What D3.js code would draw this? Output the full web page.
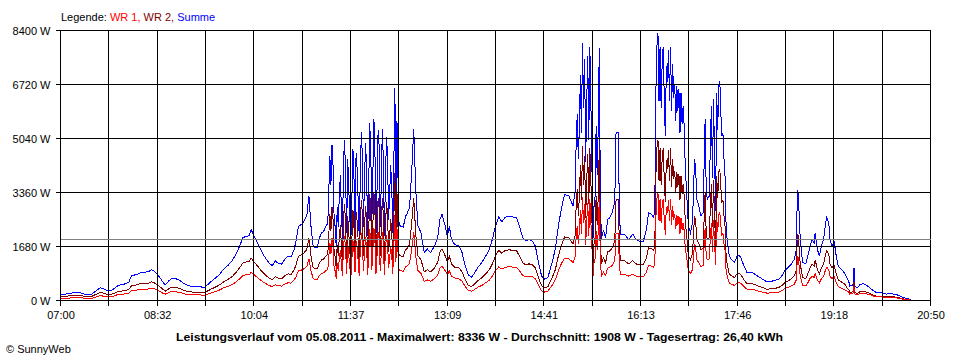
<!DOCTYPE html>
<html><head><meta charset="utf-8">
<script src="https://cdn.jsdelivr.net/npm/d3@7"></script>
<style>
html,body{margin:0;padding:0;background:#fff;}
svg{display:block;}
text{font-family:"Liberation Sans",Arial,sans-serif;}
</style>
</head><body>
<svg id="c" width="960" height="360"></svg>
<script>
// ---- data (minutes since midnight, watts) ----
const times = [
 420,425,430,435,440,445,450,455,458,462,466,470,475,480,485,488,492,496,500,504,507,510,514,518,520,523,526,530,534,538,
 542,546,552,557,560,564,568,572,576,580,584,588,591,594,597,600,602,604,607,610,613,616,619,622,625,628,631,634,637,640,
 643,645,647,649,651,653,655,657,659,661,663,665,667,669,671,673,675,
 677,678,679,680,681,682,683,684,685,686,687,688,689,690,691,692,693,694,695,696,697,698,699,700,701,702,703,704,705,706,
 707,708,709,710,711,712,713,714,715,716,717,718,719,720,721,722,723,724,725,726,727,728,729,730,731,732,733,734,735,736,
 737,738,739,740,741,742,743,
 745,747,749,751,753,755,757,759,761,
 764,767,770,773,777,780,782,784,787,789,791,793,796,800,803,806,809,812,815,818,822,826,829,832,835,838,841,844,848,851,
 855,858,861,864,867,870,873,876,879,882,885,889,892,895,898,901,905,909,911,912,913,914,915,916,917,918,919,920,921,922,
 923,924,925,926,927,928,929,930,931,932,933,934,935,936,938,940,942,944,946,948,949,950,952,953,954,958,962,966,969,972,
 976,979,981,984,986,987,988,989,990,991,992,993,994,995,996,997,998,999,1000,1001,1002,1003,1004,1005,1006,1007,1008,1009,1010,1011,
 1012,1013,1014,1015,1016,1017,1018,1019,1021,1023,1024,1025,1026,1027,1029,1031,1033,1035,1036,1037,1039,1040,1041,1042,1043,1044,1045,1046,1047,1048,
 1049,1050,1051,1052,1053,1054,1055,1056,1058,1060,1063,1066,1069,1072,1075,1080,1085,1090,1094,1100,1105,1108,1111,1114,1117,1120,1122,1123,1124,1125,
 1126,1128,1131,1133,1135,1137,1139,1140,1142,1144,1146,1148,1150,1151,1153,1154,1156,1158,1160,1162,1165,1168,1170,1172,1173,1176,1177,1178,1180,1183,
 1186,1190,1193,1198,1203,1208,1213,1218,1224,1228,1231,1232
];
const summe = [
 190,200,230,250,230,180,200,330,400,350,290,340,470,500,560,780,800,860,880,900,960,900,750,560,490,600,690,680,620,520,
 460,440,440,400,480,600,700,820,990,1100,1250,1480,1700,1950,2000,2010,2200,2050,1850,1650,1450,1300,1170,1080,1230,1150,1130,1280,1380,1350,
 1600,1900,2300,2350,2400,2520,2650,3250,2300,1700,1650,1650,1950,2100,2150,2300,2400,
 4500,3600,4850,4200,2600,2300,1700,2900,2300,3300,3900,2800,1900,4300,5000,3900,2100,4400,3500,2600,1800,3200,4700,3800,2200,4600,4100,3100,1900,3900,
 5230,4500,2300,3700,4900,4200,2000,3400,5530,4700,2400,3900,5640,4600,2100,3500,5300,4800,2300,3600,5320,4400,2000,3800,5100,4500,2500,3300,4200,3600,
 2100,4200,6620,3000,5590,3800,2350,
 2300,2280,2600,2730,2890,3980,5320,3400,2320,
 2100,1490,1600,1490,1700,2000,2520,2680,2320,2000,2300,1900,1740,1700,1500,1100,800,720,850,1020,1180,1400,1580,1900,2320,2600,2450,2580,2630,2600,
 2580,2300,1950,1850,1900,1850,1700,1180,760,660,720,1180,1590,2320,2890,3300,3250,2940,3400,5000,5790,4400,5380,7000,5200,8020,6000,7500,4300,6150,
 7600,5000,7900,6150,4180,1900,2940,3250,5430,3900,5400,7870,3350,1900,2200,1950,2520,2570,2700,2940,3460,5220,5220,3350,2060,2060,1900,2060,1900,1850,
 1850,2200,2730,2680,2580,2940,6460,7900,8330,6200,7900,6000,7400,7900,6300,5120,7300,6800,7800,6200,7900,5900,7350,6300,6720,5600,6670,5900,6570,5200,
 6460,5500,6050,5430,4180,3560,2940,2320,2110,2420,3600,4390,4080,3150,2940,2630,2730,5640,3500,3150,3250,5000,6040,3800,6260,4500,2800,6460,5300,6670,
 6830,5800,5120,5200,4400,3870,2320,1900,1380,1280,1180,1430,1350,1070,870,870,760,660,580,610,660,760,920,1020,1120,1280,1590,3400,3350,2320,
 1800,1180,1150,1380,1690,1900,1800,2110,1600,1380,1700,1900,2420,2580,2400,1900,1690,1850,1400,1070,960,860,710,600,450,480,1020,450,400,500,
 520,450,370,250,250,200,210,180,90,60,20,0
];
const wr1 = [
 70,70,80,90,80,70,70,120,150,130,110,130,190,200,220,310,320,340,350,360,380,360,300,220,200,240,280,270,250,210,
 180,180,180,160,190,240,280,330,400,440,500,590,680,780,800,800,880,820,740,660,580,520,470,430,490,460,450,510,550,540,
 640,760,920,940,960,1010,1060,1300,920,680,660,660,780,840,860,920,960,
 1800,1440,1940,1680,1040,920,680,1160,920,1320,1560,1120,760,1720,2000,1560,840,1760,1400,1040,720,1280,1880,1520,880,1840,1640,1240,760,1560,
 2090,1800,920,1480,1960,1680,800,1360,2210,1880,960,1560,2260,1840,840,1400,2120,1920,920,1440,2130,1760,800,1520,2040,1800,1000,1320,1680,1440,
 840,1680,2650,1200,2240,1520,940,
 920,910,1040,1090,1160,1590,2130,1360,930,
 840,600,640,600,680,800,1010,1070,930,800,920,760,700,680,600,440,320,290,340,410,470,560,630,760,930,1040,980,1030,1050,1040,
 1030,920,780,740,760,740,680,470,300,260,290,470,640,930,1160,1320,1300,1180,1360,2000,2320,1760,2150,2800,2080,3210,2400,3000,1720,2460,
 3040,2000,3160,2460,1670,760,1180,1300,2170,1560,2160,3150,1340,760,880,780,1010,1030,1080,1180,1380,2090,2090,1340,820,820,760,820,760,740,
 740,880,1090,1070,1030,1180,2580,3160,3330,2480,3160,2400,2960,3160,2520,2050,2920,2720,3120,2480,3160,2360,2940,2520,2690,2240,2670,2360,2630,2080,
 2580,2200,2420,2170,1670,1420,1180,930,840,970,1440,1760,1630,1260,1180,1050,1090,2260,1400,1260,1300,2000,2420,1520,2500,1800,1120,2580,2120,2670,
 2730,2320,2050,2080,1760,1550,930,760,550,510,470,570,540,430,350,350,300,260,230,240,260,300,370,410,450,510,640,1360,1340,930,
 720,470,460,550,680,760,720,840,640,550,680,760,970,1030,960,760,680,740,560,430,380,340,300,260,200,210,440,200,180,220,
 230,200,170,110,110,90,90,80,40,30,10,0
];
const wr2 = [
 120,130,150,160,150,110,130,210,250,220,180,210,280,300,340,470,480,520,530,540,580,540,450,340,290,360,410,410,370,310,
 280,260,260,240,290,360,420,490,590,660,750,890,1020,1170,1200,1210,1320,1230,1110,990,870,780,700,650,740,690,680,770,830,810,
 960,1140,1380,1410,1440,1510,1590,1950,1380,1020,990,990,1170,1260,1290,1380,1440,
 2700,2160,2910,2520,1560,1380,1020,1740,1380,1980,2340,1680,1140,2580,3000,2340,1260,2640,2100,1560,1080,1920,2820,2280,1320,2760,2460,1860,1140,2340,
 3140,2700,1380,2220,2940,2520,1200,2040,3320,2820,1440,2340,3380,2760,1260,2100,3180,2880,1380,2160,3190,2640,1200,2280,3060,2700,1500,1980,2520,2160,
 1260,2520,3970,1800,3350,2280,1410,
 1380,1370,1560,1640,1730,2390,3190,2040,1390,
 1260,890,960,890,1020,1200,1510,1610,1390,1200,1380,1140,1040,1020,900,660,480,430,510,610,710,840,950,1140,1390,1560,1470,1550,1580,1560,
 1550,1380,1170,1110,1140,1110,1020,710,460,400,430,710,950,1390,1730,1980,1950,1760,2040,3000,3470,2640,3230,4200,3120,4810,3600,4500,2580,3690,
 4560,3000,4740,3690,2510,1140,1760,1950,3260,2340,3240,4720,2010,1140,1320,1170,1510,1540,1620,1760,2080,3130,3130,2010,1240,1240,1140,1240,1140,1110,
 1110,1320,1640,1610,1550,1760,3880,4740,5000,3720,4740,3600,4440,4740,3780,3070,4380,4080,4680,3720,4740,3540,4410,3780,4030,3360,4000,3540,3940,3120,
 3880,3300,3630,3260,2510,2140,1760,1390,1270,1450,2160,2630,2450,1890,1760,1580,1640,3380,2100,1890,1950,3000,3620,2280,3760,2700,1680,3880,3180,4000,
 4100,3480,3070,3120,2640,2320,1390,1140,830,770,710,860,810,640,520,520,460,400,350,370,400,460,550,610,670,770,950,2040,2010,1390,
 1080,710,690,830,1010,1140,1080,1270,960,830,1020,1140,1450,1550,1440,1140,1010,1110,840,640,580,520,410,340,250,270,580,250,220,280,
 290,250,200,140,140,110,120,100,50,30,10,0
];
const yTickValues = [0, 1680, 3360, 5040, 6720, 8400];
const yTickLabels = ["0 W", "1680 W", "3360 W", "5040 W", "6720 W", "8400 W"];
const xTickLabels = ["07:00","08:32","10:04","11:37","13:09","14:41","16:13","17:46","19:18","20:50"];
const averageW = 1908;
const legendPrefix = "Legende: ";
const seriesNames = ["WR 1", "WR 2", "Summe"];
const titleText = "Leistungsverlauf vom 05.08.2011 - Maximalwert: 8336 W - Durchschnitt: 1908 W - Tagesertrag: 26,40 kWh";
const footerText = "\u00A9 SunnyWeb";

// ---- drawing ----
const colors = {"WR 1": "#ff0000", "WR 2": "#800000", "Summe": "#0000ff"};
const svg = d3.select("#c");
const t0 = 420, t1 = 1250;
const x = d3.scaleLinear().domain([t0, t1]).range([60.5, 930.5]);
const y = d3.scaleLinear().domain([0, 8400]).range([300.5, 30.5]);
const gridTimes = d3.range(19).map(i => t0 + i * (t1 - t0) / 18);

// data lines
const lineGen = d3.line().x((d, i) => x(times[i])).y(d => y(d));
const series = [["Summe", summe], ["WR 2", wr2], ["WR 1", wr1]];
svg.append("g").selectAll("path").data(series).join("path")
  .attr("d", d => lineGen(d[1]))
  .attr("fill", "none")
  .attr("stroke", d => colors[d[0]])
  .attr("stroke-width", 1)
  .attr("shape-rendering", "crispEdges");

// grid
const grid = svg.append("g").attr("stroke", "#000").attr("stroke-width", 1).attr("shape-rendering", "crispEdges");
grid.selectAll("line.h").data(yTickValues).join("line").attr("class", "h")
  .attr("x1", x.range()[0] - 5).attr("x2", x.range()[1])
  .attr("y1", d => y(d)).attr("y2", d => y(d));
grid.selectAll("line.v").data(gridTimes).join("line").attr("class", "v")
  .attr("x1", d => x(d)).attr("x2", d => x(d))
  .attr("y1", y(8400)).attr("y2", y(0) + 5);

// average line
svg.append("line")
  .attr("x1", x.range()[0]).attr("x2", x.range()[1])
  .attr("y1", y(averageW)).attr("y2", y(averageW))
  .attr("stroke", "#808080").attr("stroke-width", 1).attr("shape-rendering", "crispEdges");

// axes (labels)
const yAxis = svg.append("g").attr("transform", `translate(${x.range()[0]},0)`)
  .call(d3.axisLeft(y).tickValues(yTickValues).tickFormat((d, i) => yTickLabels[i]).tickSize(0).tickPadding(10));
const xAxis = svg.append("g").attr("transform", `translate(0,${y(0)})`)
  .call(d3.axisBottom(x).tickValues(gridTimes).tickFormat((d, i) => i % 2 === 0 ? xTickLabels[i / 2] : "").tickSize(0).tickPadding(11));
[yAxis, xAxis].forEach(g => {
  g.select(".domain").remove();
  g.selectAll("text").attr("font-family", "'Liberation Sans', Arial, sans-serif").attr("font-size", 11).attr("fill", "#000");
});

// legend
const leg = svg.append("text").attr("x", 61).attr("y", 17).attr("dy", "0.35em").attr("font-size", 11);
leg.append("tspan").attr("fill", "#000").text(legendPrefix);
seriesNames.forEach((n, i) => {
  leg.append("tspan").attr("fill", colors[n]).text(n + (i < seriesNames.length - 1 ? ", " : ""));
});

// title
svg.append("text").attr("x", 479.5).attr("y", 337).attr("dy", "0.35em")
  .attr("text-anchor", "middle").attr("font-size", 11.5).attr("font-weight", "bold")
  .attr("textLength", 607).attr("lengthAdjust", "spacingAndGlyphs").attr("fill", "#000")
  .text(titleText);

// footer
svg.append("text").attr("x", 6).attr("y", 349).attr("dy", "0.35em")
  .attr("font-size", 11).attr("fill", "#000").text(footerText);
</script>
</body></html>
